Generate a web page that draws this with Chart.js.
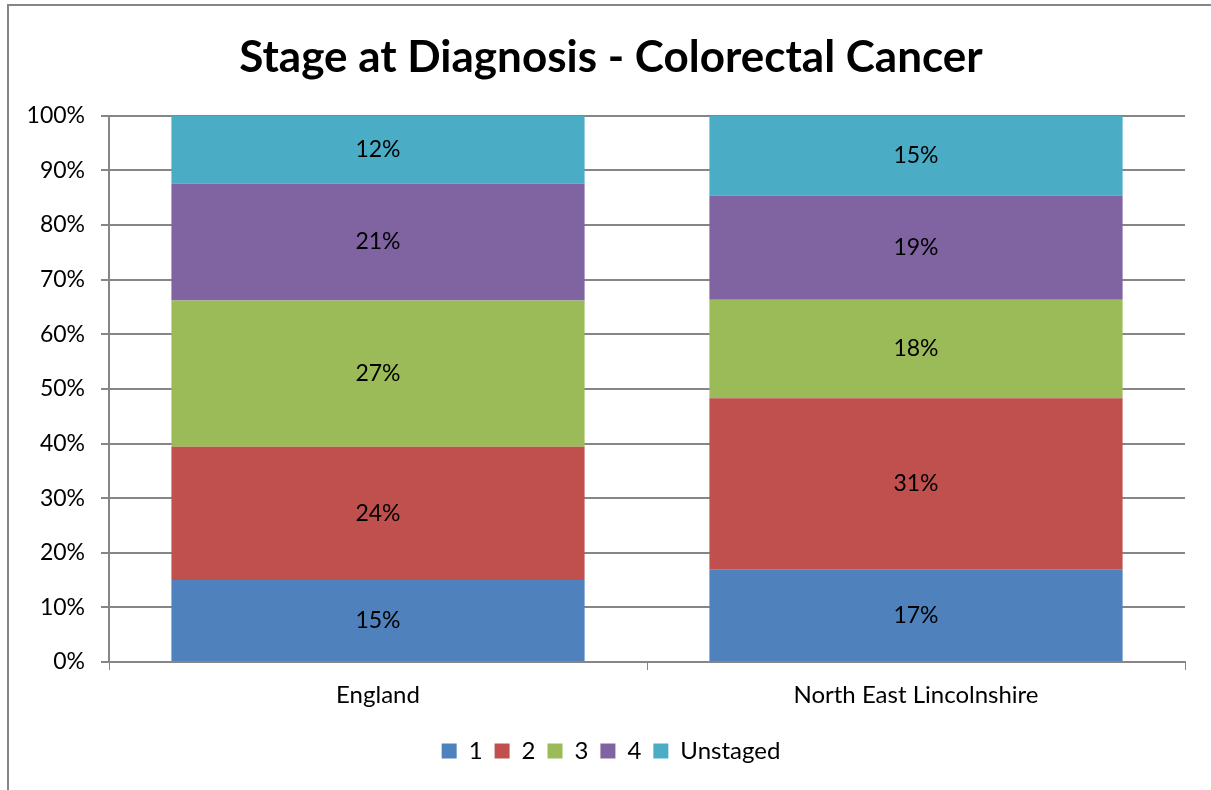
<!DOCTYPE html>
<html>
<head>
<meta charset="utf-8">
<script src="https://cdn.jsdelivr.net/npm/chart.js@4.4.0/dist/chart.umd.min.js"></script>
<style>
    html, body { margin: 0; background: #fff; overflow: hidden; }
    /* the original chart frame runs past the right edge of the picture */
    #wrap { width: 1222px; height: 790px; position: relative; }
</style>
</head>
<body>
<div id="wrap"><canvas id="stageChart"></canvas></div>
<script>
// Stage at diagnosis, % of cases
const regions = ['England', 'North East Lincolnshire'];
const stages = ['1', '2', '3', '4', 'Unstaged'];
const stage1 = [15.0, 16.9];
const stage2 = [24.4, 31.4];
const stage3 = [26.8, 18.0];
const stage4 = [21.4, 19.1];
const unstaged = [12.4, 14.6];
const stageColors = ['#4F81BD', '#C0504D', '#9BBB59', '#8064A2', '#4BACC6'];

const axisGrey = '#868686';
const fontFamily = 'Lato, "Open Sans", sans-serif';

// Outer frame (only left and top edges are visible in the picture)
const framePlugin = {
    id: 'frame',
    beforeDraw(chart) {
        const ctx = chart.ctx;
        ctx.save();
        ctx.strokeStyle = axisGrey;
        ctx.lineWidth = 2;
        ctx.beginPath();
        ctx.moveTo(8, chart.height);
        ctx.lineTo(8, 5);
        ctx.lineTo(chart.width, 5);
        ctx.stroke();
        ctx.restore();
    }
};

// Value labels in the middle of each segment
const segmentLabels = {
    id: 'segmentLabels',
    afterDatasetsDraw(chart) {
        const ctx = chart.ctx;
        ctx.save();
        ctx.font = '23px ' + fontFamily;
        ctx.fillStyle = '#000';
        ctx.textAlign = 'center';
        ctx.textBaseline = 'middle';
        chart.data.datasets.forEach((ds, i) => {
            chart.getDatasetMeta(i).data.forEach((bar, j) => {
                const y = (bar.y + bar.base) / 2;
                ctx.fillText(Math.round(ds.data[j]) + '%', bar.x, y);
            });
        });
        ctx.restore();
    }
};

const seriesValues = [stage1, stage2, stage3, stage4, unstaged];

new Chart(document.getElementById('stageChart'), {
    type: 'bar',
    data: {
        labels: regions,
        datasets: stages.map((s, i) => ({
            label: s,
            data: seriesValues[i],
            backgroundColor: stageColors[i],
            borderWidth: 0,
            categoryPercentage: 1,
            barPercentage: 0.768
        }))
    },
    options: {
        responsive: true,
        maintainAspectRatio: false,
        animation: false,
        layout: { padding: { left: 0, right: 0, top: 0, bottom: 17 } },
        plugins: {
            title: {
                display: true,
                text: 'Stage at Diagnosis - Colorectal Cancer',
                color: '#000',
                font: { family: fontFamily, size: 44, weight: 'bold', lineHeight: 1.2 },
                padding: { top: 31, bottom: 32 }
            },
            legend: {
                position: 'bottom',
                labels: {
                    color: '#000',
                    font: { family: fontFamily, size: 24 },
                    boxWidth: 15,
                    boxHeight: 15,
                    padding: 12
                }
            },
            tooltip: { enabled: false }
        },
        scales: {
            x: {
                stacked: true,
                grid: {
                    drawOnChartArea: false,
                    drawTicks: true,
                    tickLength: 8,
                    color: axisGrey,
                    offset: true
                },
                border: { color: axisGrey, width: 2 },
                ticks: {
                    color: '#000',
                    font: { family: fontFamily, size: 24 },
                    padding: 11
                },
                afterFit(scale) { scale.height = 65; }
            },
            y: {
                stacked: true,
                min: 0,
                max: 100,
                grid: { color: axisGrey, lineWidth: 2, tickLength: 8 },
                border: { color: axisGrey, width: 2 },
                ticks: {
                    stepSize: 10,
                    color: '#000',
                    font: { family: fontFamily, size: 23 },
                    padding: 16,
                    callback: v => v + '%'
                },
                afterFit(scale) { scale.width = 109; }
            },
            // empty strip on the right so the plot ends where the original does
            rightGap: {
                type: 'linear',
                position: 'right',
                grid: { display: false },
                border: { display: false },
                ticks: { display: false },
                afterFit(scale) { scale.width = 37; }
            }
        }
    },
    plugins: [framePlugin, segmentLabels]
});
</script>
</body>
</html>
